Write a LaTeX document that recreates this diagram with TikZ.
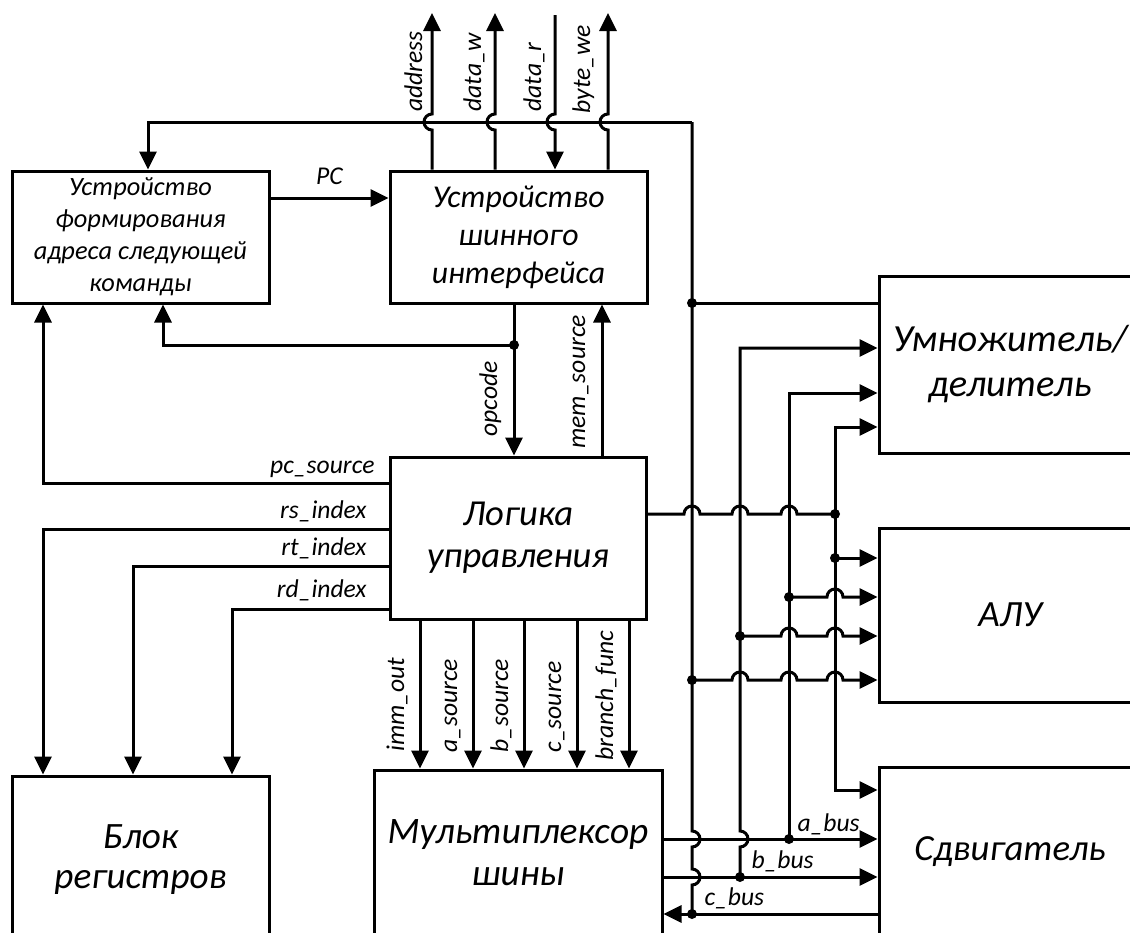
\documentclass[tikz,border=0pt]{standalone}
\usepackage{fontspec}
\setmainfont{Carlito}
\usetikzlibrary{arrows.meta}
\def\hop{arc[start angle=180,end angle=0,radius=4pt]}
\def\hopl{arc[start angle=270,end angle=90,radius=4pt]}
\def\hopr{arc[start angle=90,end angle=-90,radius=4pt]}
\def\fs#1#2{\itshape\fontsize{#1}{#2}\selectfont}

\begin{document}
\begin{tikzpicture}[x=0.5pt,y=-0.5pt,line width=1.5pt,>={Triangle[length=9pt,width=8.5pt]},
  blk/.style={draw,inner sep=0pt,align=center},
  lbl/.style={font=\fs{12.8}{15},inner sep=0pt}]
  \useasboundingbox (0,0) rectangle (1130,932);
  \clip (0,0) rectangle (1130,932);
  % blocks
  \node[blk,minimum width=128.5pt,minimum height=66pt,font=\fs{13.2}{16}] (nextpc) at (140.5,237)
    {Устройство\\формирования\\адреса следующей\\команды};
  \node[blk,minimum width=128.5pt,minimum height=66pt,font=\fs{15.9}{19}] (busif) at (518.5,237)
    {Устройство\\шинного\\интерфейса};
  \node[blk,minimum width=128pt,minimum height=81pt,font=\fs{18.3}{21}] (ctrl) at (518,538)
    {Логика\\управления};
  \node[blk,minimum width=128.5pt,minimum height=84pt,font=\fs{18.6}{20}] (regs) at (140.5,860)
    {Блок\\регистров};
  \node[blk,minimum width=144pt,minimum height=83pt,font=\fs{18.7}{21}] (mux) at (518,853)
    {Мультиплексор\\шины};
  \node[blk,minimum width=131pt,minimum height=88.5pt,font=\fs{19.2}{22.5}] (muldiv) at (1010,364.5)
    {Умножитель/\\делитель};
  \node[blk,minimum width=131pt,minimum height=87pt,font=\fs{18.5}{20}] (alu) at (1010,615) {АЛУ};
  \node[blk,minimum width=131pt,minimum height=85pt,font=\fs{18.4}{20}] (shifter) at (1010,852) {Сдвигатель};

  \coordinate (t1) at (148,122); \coordinate (t2) at (692,122);
  \coordinate (p1) at (43,483); \coordinate (p2) at (163,345);
  \coordinate (r1) at (43,529); \coordinate (r2) at (133,566); \coordinate (r3) at (232,609);
  \coordinate (m1) at (740,348); \coordinate (m2) at (789,393);
  \coordinate (m3) at (835,427); \coordinate (s1) at (835,790);
  \coordinate (j1) at (514,345); \coordinate (j2) at (692,303);
  \coordinate (j3) at (835,514); \coordinate (j4) at (835,558);
  \coordinate (j5) at (789,597); \coordinate (j6) at (740,636);
  \coordinate (j7) at (692,680); \coordinate (j8) at (789,839);
  \coordinate (j9) at (740,877); \coordinate (j10) at (692,914);

  % memory side
  \draw[->] (busif.north -| 432,0) -- (432,130) \hopl -- (432,13);
  \draw[->] (busif.north -| 495,0) -- (495,130) \hopl -- (495,13);
  \draw[<-] (busif.north -| 555,0) -- (555,130) \hopl -- (555,15);
  \draw[->] (busif.north -| 608,0) -- (608,130) \hopl -- (608,13);
  \node[lbl,rotate=90,anchor=base west] (ladr) at (422,113) {address};
  \node[lbl,rotate=90,anchor=base west] (ldw) at (481,113) {data\_w};
  \node[lbl,rotate=90,anchor=base west] (ldr) at (541,113) {data\_r};
  \node[lbl,rotate=90,anchor=base west] (lbw) at (590,115) {byte\_we};

  % c_bus and next address
  \draw[->] (t2) -- (t1) -- (nextpc.north -| t1);
  \draw (t2) -- (692,831) \hopr -- (692,869) \hopr -- (j10);
  \draw[->] (nextpc.east |- 0,198) -- node[lbl,above=6pt] (lpc) {PC} (busif.west |- 0,198);
  \draw (muldiv.west |- j2) -- (j2);

  % control
  \draw[->] (busif.south -| j1) -- (ctrl.north -| j1);
  \draw[->] (j1) -- (p2) -- (nextpc.south -| p2);
  \draw[->] (ctrl.north -| 602,0) -- (busif.south -| 602,0);
  \node[lbl,rotate=90,anchor=base west] (lop) at (497,438) {opcode};
  \node[lbl,rotate=90,anchor=base west] (lms) at (585,450) {mem\_source};
  \draw[->] (ctrl.west |- p1) -- (p1) -- (nextpc.south -| p1);
  \foreach \r in {r1,r2,r3}
    \draw[->] (ctrl.west |- \r) -- (\r) -- (regs.north -| \r);
  \node[lbl,anchor=base east] (lpcs) at (376,473) {pc\_source};
  \node[lbl,anchor=base east] (lrs) at (368,518) {rs\_index};
  \node[lbl,anchor=base east] (lrt) at (368,555) {rt\_index};
  \node[lbl,anchor=base east] (lrd) at (368,597) {rd\_index};
  \foreach \x/\y/\s in {420/753/imm\_out,473/754/a\_source,524/754/b\_source,577/754/c\_source,629/762/branch\_func}{
    \draw[->] (ctrl.south -| \x,0) -- (mux.north -| \x,0);
    \node[lbl,rotate=90,anchor=base west] (l\x) at (\x-16,\y) {\s};
  }

  % functional units
  \draw (ctrl.east |- j3) -- (684,514) \hop -- (732,514) \hop -- (781,514) \hop -- (j3);
  \draw[<-] (muldiv.west |- m1) -- (m1) -- (740,831) \hopr -- (j9);
  \draw[<-] (muldiv.west |- m2) -- (m2) -- (j8);
  \draw[<->] (muldiv.west |- m3) -- (m3) -- (s1) -- (shifter.west |- s1);
  \draw[->] (j4) -- (alu.west |- j4);
  \draw[->] (j5) -- (827,597) \hop -- (alu.west |- j5);
  \draw[->] (j6) -- (781,636) \hop -- (827,636) \hop -- (alu.west |- j6);
  \draw[->] (j7) -- (732,680) \hop -- (781,680) \hop -- (827,680) \hop -- (alu.west |- j7);

  % buses
  \draw[->] (mux.east |- j8) -- (shifter.west |- j8);
  \draw[->] (mux.east |- j9) -- (shifter.west |- j9);
  \draw[->] (shifter.west |- j10) -- (mux.east |- j10);
  \node[lbl,anchor=base west] (lab) at (796,831) {a\_bus};
  \node[lbl,anchor=base west] (lbb) at (750,868) {b\_bus};
  \node[lbl,anchor=base west] (lcb) at (703,905) {c\_bus};

  \foreach \j in {j1,j2,j3,j4,j5,j6,j7,j8,j9,j10} \fill (\j) circle (2.5pt);
\end{tikzpicture}
\end{document}
